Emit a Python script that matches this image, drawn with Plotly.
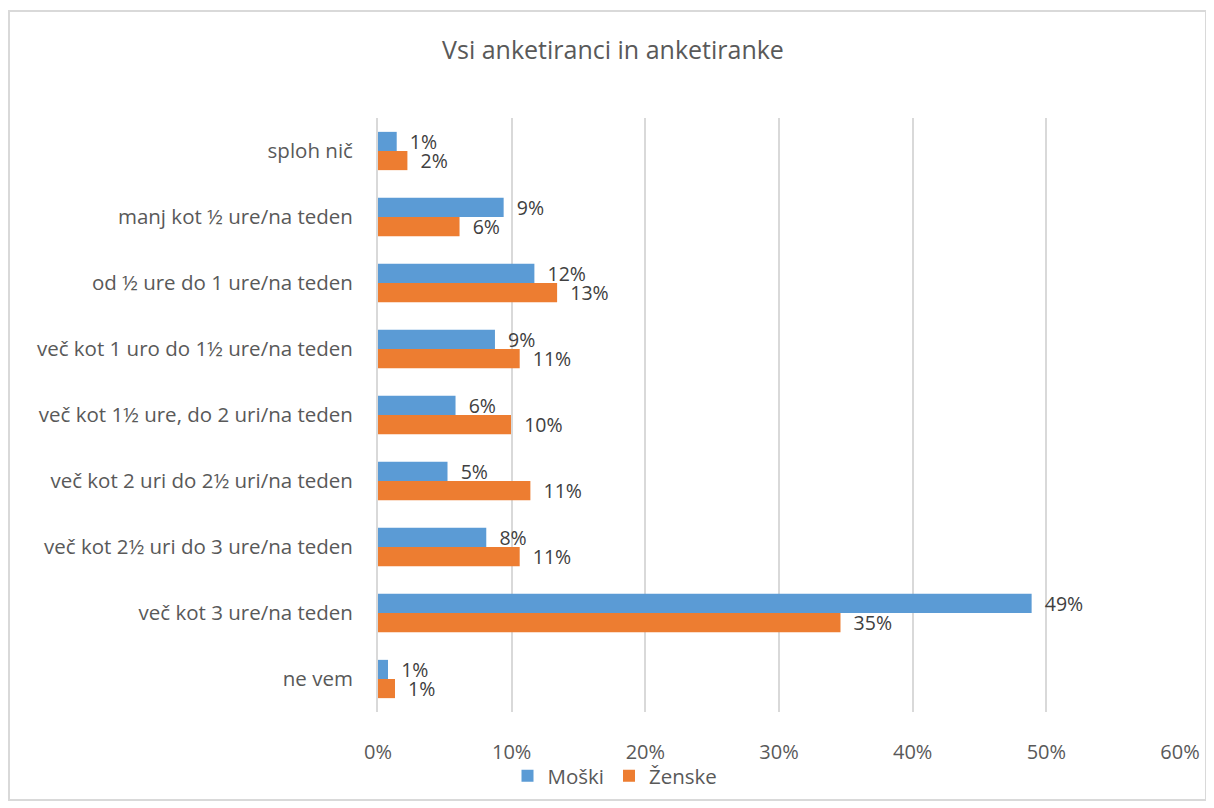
import plotly.graph_objects as go

categories = [
    "sploh nič",
    "manj kot ½ ure/na teden",
    "od ½ ure do 1 ure/na teden",
    "več kot 1 uro do 1½ ure/na teden",
    "več kot 1½ ure, do 2 uri/na teden",
    "več kot 2 uri do 2½ uri/na teden",
    "več kot 2½ uri do 3 ure/na teden",
    "več kot 3 ure/na teden",
    "ne vem",
]
moski = [0.014, 0.094, 0.117, 0.0875, 0.058, 0.052, 0.081, 0.489, 0.0075]
zenske = [0.022, 0.061, 0.134, 0.106, 0.0995, 0.114, 0.106, 0.346, 0.0127]
series_names = ["Moški", "Ženske"]
colors = ["#5B9BD5", "#ED7D31"]

FONT = "Open Sans"
GRAY = "#595959"

fig = go.Figure()
for name, vals, col in zip(series_names, [moski, zenske], colors):
    fig.add_trace(go.Bar(
        y=categories, x=vals, name=name, orientation="h",
        marker=dict(color=col, line=dict(width=0)),
        texttemplate="\u00a0\u00a0%{x:.0%}",
        textposition="outside", cliponaxis=False, constraintext="none",
        textfont=dict(family=FONT, size=19.5, color="#404040"),
    ))

# page offset (body margin 8px)
OFF = 8
W, H = 1214 - OFF, 808 - OFF
L, R, T, B = 378 - OFF, 1180 - OFF, 118 - OFF, 712 - OFF
pw, ph = R - L, B - T

fig.update_layout(
    width=W, height=H,
    margin=dict(l=L, r=W - R, t=T, b=H - B, autoexpand=False),
    paper_bgcolor="white", plot_bgcolor="white",
    barmode="group", bargap=0.42, bargroupgap=0,
    font=dict(family=FONT, color=GRAY),
    title=dict(text="Vsi anketiranci in anketiranke", x=(613 - OFF) / W, xanchor="center",
               y=1 - (50 - OFF) / H, yanchor="middle",
               font=dict(family=FONT, size=25, color=GRAY)),
    showlegend=True,
    legend=dict(orientation="h", x=(615 - 378) / pw, xanchor="center",
                y=(712 - 776) / ph, yanchor="middle",
                bgcolor="rgba(0,0,0,0)",
                font=dict(family=FONT, size=20.5, color=GRAY),
                itemwidth=30, traceorder="normal"),
    xaxis=dict(range=[0, 0.6], dtick=0.1, tickformat=".0%",
               showgrid=True, gridcolor="#D9D9D9", gridwidth=2,
               zeroline=False, showline=False, ticks="",
               ticklabelstandoff=26,
               tickfont=dict(family=FONT, size=20, color=GRAY)),
    yaxis=dict(autorange="reversed", showgrid=False, zeroline=False,
               showline=True, linecolor="#D9D9D9", linewidth=2,
               ticks="", ticklabelstandoff=19,
               tickfont=dict(family=FONT, size=20.5, color=GRAY)),
    shapes=[dict(type="rect", xref="paper", yref="paper",
                 x0=(9 - 378) / pw, x1=(1206 - 378) / pw,
                 y0=(712 - 800) / ph, y1=(712 - 11) / ph,
                 line=dict(color="#D9D9D9", width=2), layer="below")],
)

fig.write_html("out.html")
